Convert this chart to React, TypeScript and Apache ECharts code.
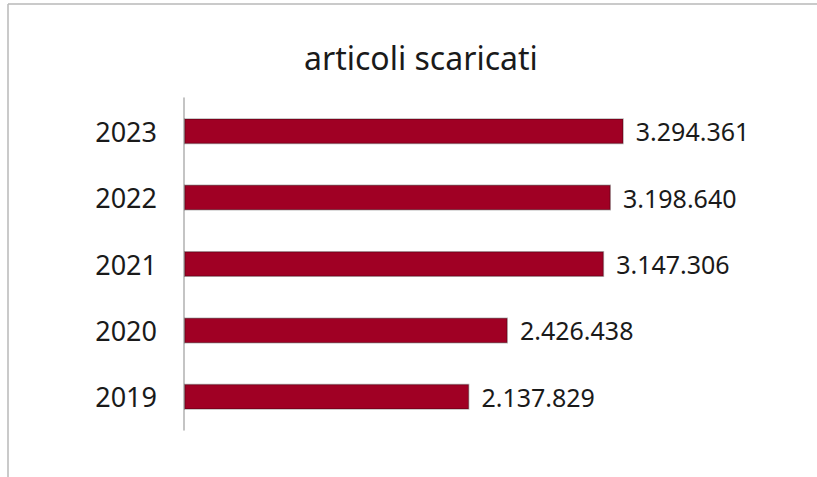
import React, { useEffect, useRef } from "react";
import * as echarts from "echarts";

const titleText = "articoli scaricati";
const years = ["2019", "2020", "2021", "2022", "2023"];
const downloads = [2137829, 2426438, 3147306, 3198640, 3294361];

const fmt = (v: number) => String(Math.round(v)).replace(/\B(?=(\d{3})+(?!\d))/g, ".");

export default function App() {
  const ref = useRef<HTMLDivElement>(null);
  useEffect(() => {
    if (!ref.current) return;
    const chart = echarts.init(ref.current, undefined, { renderer: "svg" });
    chart.setOption({
      animation: false,
      backgroundColor: "#ffffff",
      title: {
        text: titleText,
        left: 299,
        top: 36,
        textStyle: { fontFamily: "Noto Sans", fontSize: 32, fontWeight: "normal", color: "#1a1a1a" },
      },
      graphic: [
        { type: "line", shape: { x1: 8, y1: 4, x2: 817, y2: 4 }, style: { stroke: "#b8b8b8", lineWidth: 1.5 } },
        { type: "line", shape: { x1: 8, y1: 4, x2: 8, y2: 477 }, style: { stroke: "#b8b8b8", lineWidth: 1.5 } },
      ],
      grid: { left: 184, right: 99, top: 98, bottom: 47 },
      xAxis: {
        type: "value",
        min: 0,
        max: 4000000,
        show: false,
        splitLine: { show: false },
      },
      yAxis: {
        type: "category",
        data: years,
        axisLine: { show: true, lineStyle: { color: "#b0b0b0", width: 1.5 } },
        axisTick: { show: false },
        axisLabel: { margin: 27, fontFamily: "Noto Sans", fontSize: 27, color: "#1a1a1a" },
      },
      series: [
        {
          type: "bar",
          data: downloads,
          barWidth: 26,
          itemStyle: { color: "#a00024", borderColor: "rgba(0,0,0,0.28)", borderWidth: 1.5 },
          label: {
            show: true,
            position: "right",
            distance: 12,
            fontFamily: "Noto Sans",
            fontSize: 25,
            color: "#1a1a1a",
            formatter: (p: any) => fmt(p.value),
          },
        },
      ],
    });
    return () => chart.dispose();
  }, []);
  return <div ref={ref} style={{ position: "fixed", left: 0, top: 0, width: 817, height: 477 }} />;
}
